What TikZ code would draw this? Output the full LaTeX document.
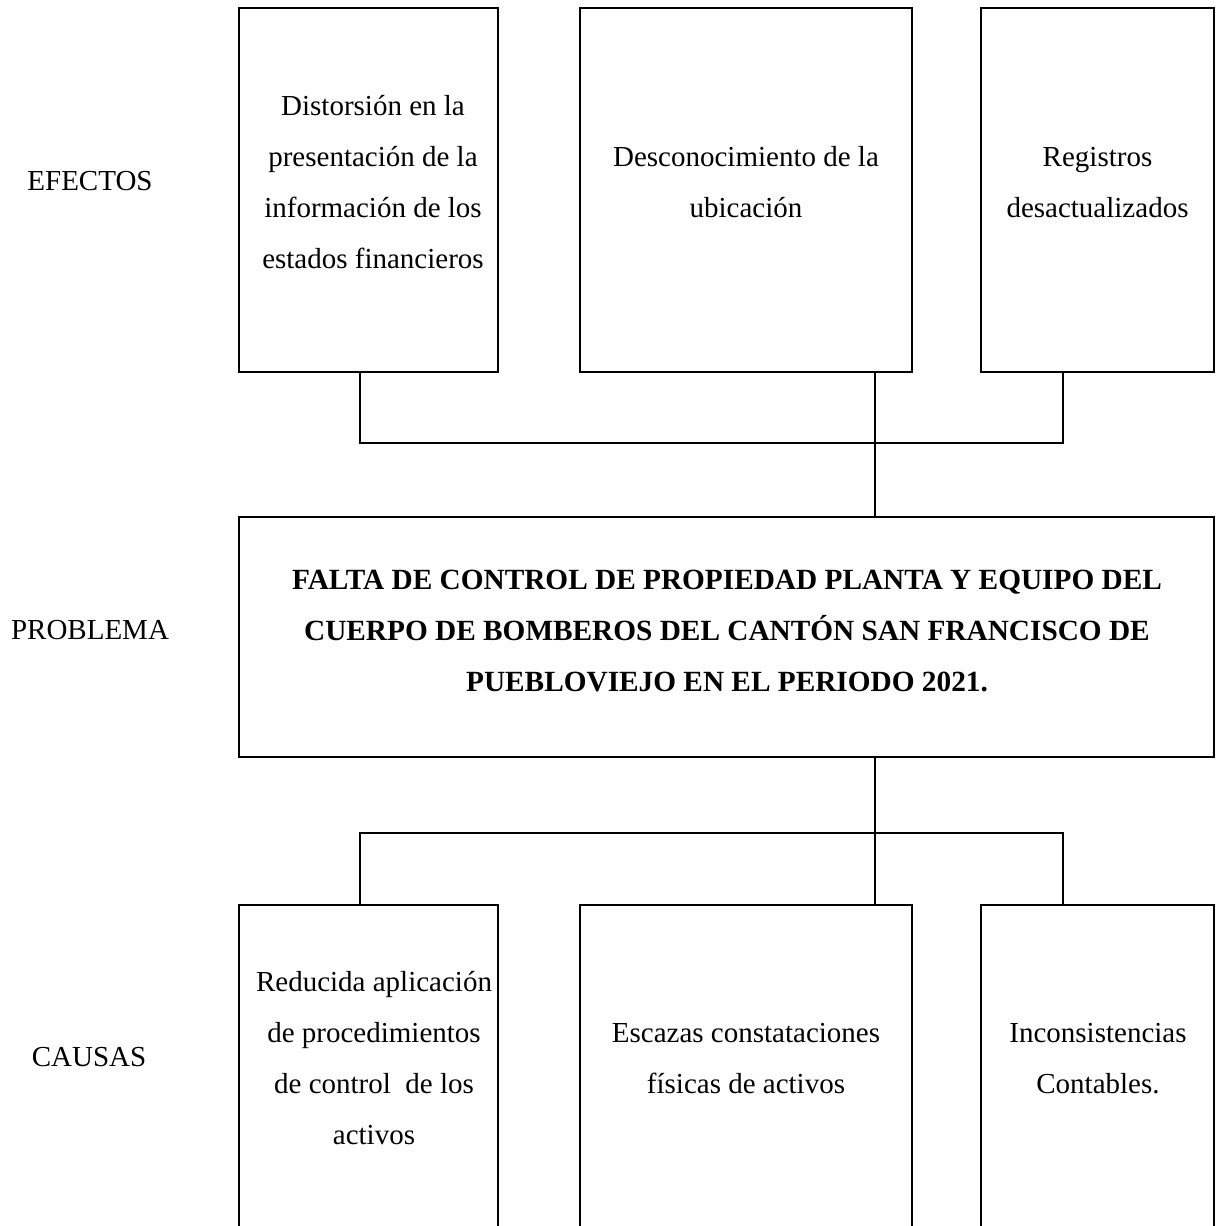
\documentclass[tikz,border=0pt]{standalone}
\usepackage{fontspec}
\setmainfont{Liberation Serif}
\begin{document}
\begin{tikzpicture}[x=1pt,y=-1pt,
  box/.style={draw=black,line width=2.2pt,rectangle,inner sep=0pt},
  txt/.style={align=center,font=\fontsize{29}{51}\selectfont,inner sep=0pt},
  lab/.style={font=\fontsize{29}{35}\selectfont,inner sep=0pt},
  conn/.style={draw=black,line width=1.6pt}]
\clip (0,0) rectangle (1217,1226);
\fill[white] (0,0) rectangle (1217,1226);

% side labels
\node[lab] (lefe) at (90,181) {EFECTOS};
\node[lab] (lpro) at (90,630) {PROBLEMA};
\node[lab] (lcau) at (89,1057) {CAUSAS};

% effect boxes
\node[box,minimum width=259,minimum height=364] (e1) at (368.5,190) {};
\node[box,minimum width=332,minimum height=364] (e2) at (746,190) {};
\node[box,minimum width=233,minimum height=364] (e3) at (1097.5,190) {};
\node[txt] (te1) at (373,182) {Distorsión en la\\presentación de la\\información de los\\estados financieros};
\node[txt] (te2) at (746,182.5) {Desconocimiento de la\\ubicación};
\node[txt] (te3) at (1097.5,182.5) {Registros\\desactualizados};

% problem box
\node[box,minimum width=975,minimum height=240] (p) at (726.5,637) {};
\node[txt,font=\fontsize{29.3}{51}\selectfont\bfseries] (tp) at (727,631) {FALTA DE CONTROL DE PROPIEDAD PLANTA Y EQUIPO DEL\\CUERPO DE BOMBEROS DEL CANTÓN SAN FRANCISCO DE\\PUEBLOVIEJO EN EL PERIODO 2021.};

% cause boxes
\node[box,minimum width=259,minimum height=360] (c1) at (368.5,1085) {};
\node[box,minimum width=332,minimum height=360] (c2) at (746,1085) {};
\node[box,minimum width=233,minimum height=360] (c3) at (1097.5,1085) {};
\node[txt] (tc1) at (374,1058) {Reducida aplicación\\de procedimientos\\de control\ \ de los\\activos};
\node[txt] (tc2) at (746,1058.5) {Escazas constataciones\\físicas de activos};
\node[txt] (tc3) at (1098,1058.5) {Inconsistencias\\Contables.};

% junction coordinates
\coordinate (ja) at (360,443);
\coordinate (jb) at (875,443);
\coordinate (jc) at (1063,443);
\coordinate (ka) at (360,833);
\coordinate (kb) at (875,833);
\coordinate (kc) at (1063,833);

% upper connectors
\draw[conn] (e1.south -| ja) -- (ja) -- (jc) -- (e3.south -| jc);
\draw[conn] (e2.south -| jb) -- (p.north -| jb);

% lower connectors
\draw[conn] (p.south -| kb) -- (c2.north -| kb);
\draw[conn] (c1.north -| ka) -- (ka) -- (kc) -- (c3.north -| kc);
\end{tikzpicture}
\end{document}
